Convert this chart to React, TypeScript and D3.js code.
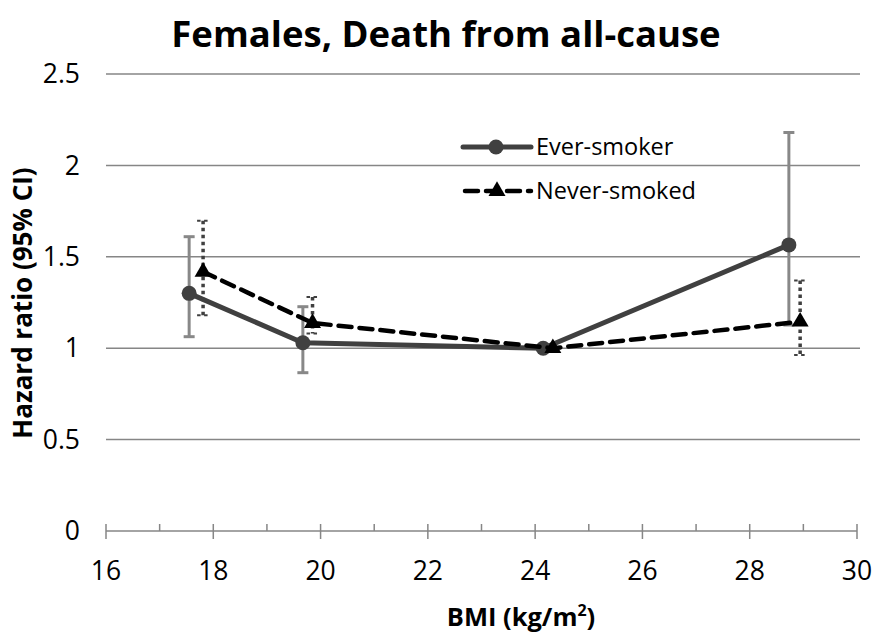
import React from "react";
import * as d3 from "d3";

const title = "Females, Death from all-cause";
const xTicks = [16, 18, 20, 22, 24, 26, 28, 30];
const xMinorTicks = [17, 19, 21, 23, 25, 27, 29];
const yTicks = [0, 0.5, 1, 1.5, 2, 2.5];

const everBMI = [17.55, 19.67, 24.15, 28.73];
const everHR = [1.3, 1.03, 1.0, 1.565];
const everLow = [1.063, 0.866, 1.0, 1.127];
const everHigh = [1.61, 1.227, 1.0, 2.18];

const neverBMI = [17.81, 19.85, 24.33, 28.94];
const neverHR = [1.418, 1.138, 1.0, 1.145];
const neverLow = [1.18, 1.08, 1.0, 0.963];
const neverHigh = [1.697, 1.28, 1.0, 1.37];

const W = 875;
const H = 636;
const FONT = "'Open Sans', 'Noto Sans', sans-serif";

export default function App() {
  const x = d3.scaleLinear().domain([16, 30]).range([106, 857]);
  const y = d3.scaleLinear().domain([0, 2.5]).range([531, 74]);

  const ever = everBMI.map((b, i) => ({ x: b, y: everHR[i], lo: everLow[i], hi: everHigh[i] }));
  const never = neverBMI.map((b, i) => ({ x: b, y: neverHR[i], lo: neverLow[i], hi: neverHigh[i] }));

  const line = d3
    .line<{ x: number; y: number }>()
    .x((d) => x(d.x))
    .y((d) => y(d.y));

  const tri = d3.symbol().type(d3.symbolTriangle).size(125)();

  return (
    <svg width={W} height={H} style={{ position: "absolute", left: 0, top: 0, background: "#fff" }}>
      <rect width={W} height={H} fill="#fff" />
      <text x={446} y={47} textAnchor="middle" fontFamily={FONT} fontWeight="bold" fontSize={36.5} fill="#000">
        {title}
      </text>
      {yTicks.slice(1).map((t) => (
        <line key={t} x1={x(16)} x2={860} y1={y(t)} y2={y(t)} stroke="#868686" strokeWidth={1.5} />
      ))}
      {yTicks.map((t) => (
        <text key={t} x={80} y={y(t)} dy="0.35em" textAnchor="end" fontFamily={FONT} fontSize={26.5} fill="#000">
          {t}
        </text>
      ))}
      <line x1={x(16)} x2={x(30)} y1={y(0)} y2={y(0)} stroke="#868686" strokeWidth={1.5} />
      {xTicks.map((t) => (
        <line key={t} x1={x(t)} x2={x(t)} y1={y(0) - 7} y2={y(0) + 8} stroke="#868686" strokeWidth={1.5} />
      ))}
      {xMinorTicks.map((t) => (
        <line key={t} x1={x(t)} x2={x(t)} y1={y(0) - 7} y2={y(0)} stroke="#868686" strokeWidth={1.5} />
      ))}
      {xTicks.map((t) => (
        <text key={t} x={x(t)} y={571} dy="0.35em" textAnchor="middle" fontFamily={FONT} fontSize={26.5} fill="#000">
          {t}
        </text>
      ))}
      <text x={521} y={626} textAnchor="middle" fontFamily={FONT} fontWeight="bold" fontSize={25.5} fill="#000">
        BMI (kg/m<tspan fontSize={16} dy={-10}>2</tspan>
        <tspan dy={10}>)</tspan>
      </text>
      <text
        transform={`translate(32, 303) rotate(-90)`}
        textAnchor="middle"
        fontFamily={FONT}
        fontWeight="bold"
        fontSize={26}
        fill="#000"
      >
        Hazard ratio (95% CI)
      </text>

      {/* ever-smoker error bars */}
      {ever.map((d, i) =>
        d.hi > d.lo ? (
          <g key={i} stroke="#888888" strokeWidth={3}>
            <line x1={x(d.x)} x2={x(d.x)} y1={y(d.hi)} y2={y(d.lo)} />
            <line x1={x(d.x) - 5.5} x2={x(d.x) + 5.5} y1={y(d.hi)} y2={y(d.hi)} />
            <line x1={x(d.x) - 5.5} x2={x(d.x) + 5.5} y1={y(d.lo)} y2={y(d.lo)} />
          </g>
        ) : null
      )}
      {/* never-smoked error bars */}
      {never.map((d, i) =>
        d.hi > d.lo ? (
          <g key={i} stroke="#404040" strokeWidth={3.5} strokeDasharray="3.5 3.5">
            <line x1={x(d.x)} x2={x(d.x)} y1={y(d.hi)} y2={y(d.lo)} />
            <line x1={x(d.x) - 6} x2={x(d.x) + 6} y1={y(d.hi)} y2={y(d.hi)} strokeWidth={2} />
            <line x1={x(d.x) - 6} x2={x(d.x) + 6} y1={y(d.lo)} y2={y(d.lo)} strokeWidth={2} />
          </g>
        ) : null
      )}

      <path d={line(ever) || ""} fill="none" stroke="#404040" strokeWidth={5} strokeLinejoin="round" />
      {ever.map((d, i) => (
        <circle key={i} cx={x(d.x)} cy={y(d.y)} r={7.5} fill="#404040" />
      ))}
      <path
        d={line(never) || ""}
        fill="none"
        stroke="#000"
        strokeWidth={4.5}
        strokeDasharray="13 8"
        strokeLinecap="round"
      />
      {never.map((d, i) => (
        <path key={i} d={tri || ""} transform={`translate(${x(d.x)},${y(d.y)})`} fill="#000" />
      ))}

      {/* legend */}
      <line x1={463} x2={531} y1={147} y2={147} stroke="#404040" strokeWidth={5} strokeLinecap="round" />
      <circle cx={496} cy={147} r={7.5} fill="#404040" />
      <text x={536} y={147} dy="0.35em" fontFamily={FONT} fontSize={23.5} fill="#000">
        Ever-smoker
      </text>
      <line x1={465} x2={531} y1={191} y2={191} stroke="#000" strokeWidth={4.5} strokeDasharray="13 8" strokeLinecap="round" />
      <path d={tri || ""} transform={`translate(497,191)`} fill="#000" />
      <text x={536} y={191} dy="0.35em" fontFamily={FONT} fontSize={23.5} fill="#000">
        Never-smoked
      </text>
    </svg>
  );
}
